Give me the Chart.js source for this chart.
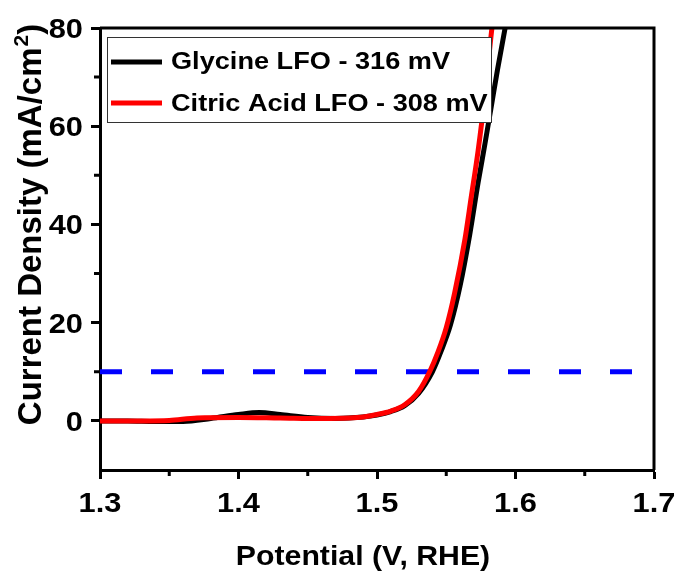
<!DOCTYPE html>
<html>
<head>
<meta charset="utf-8">
<script src="https://cdn.jsdelivr.net/npm/chart.js@4"></script>
<style>
  html, body { margin: 0; padding: 0; background: #fff; }
  #c { display: block; }
</style>
</head>
<body>
<canvas id="c" width="681" height="575"></canvas>
<script>
// Linear sweep voltammetry, OER polarisation curves
const glycinePotential = [1.300, 1.320, 1.340, 1.360, 1.380, 1.400, 1.415, 1.430, 1.450, 1.470, 1.490, 1.500, 1.510, 1.520, 1.530, 1.540, 1.546, 1.553, 1.560, 1.567, 1.573, 1.578, 1.5825, 1.587, 1.5925, 1.596];
const glycineCurrent   = [0.0,   0.0,  -0.1,  -0.1,   0.5,   1.3,   1.7,   1.3,   0.7,   0.5,   0.8,   1.2,   1.9,   3.1,   5.6,  10.0,  14.0,  19.5,  27.5,  38.0,  48.5,  56.5,  64.0,   71.5,  80.0,   85.0];

const citricPotential  = [1.300, 1.330, 1.350, 1.370, 1.400, 1.430, 1.460, 1.480, 1.490, 1.500, 1.510, 1.520, 1.530, 1.538, 1.544, 1.550, 1.556, 1.5635, 1.568, 1.573, 1.578, 1.583, 1.586];
const citricCurrent    = [0.0,   0.0,   0.1,   0.6,   0.7,   0.6,   0.5,   0.6,   0.8,   1.3,   2.0,   3.3,   6.0,  10.0,  14.0,  19.0,  26.0,  37.0,   45.5,  55.0,  66.5,  80.0,  86.0];

const referenceCurrent = 10;              // mA/cm2 benchmark line
const referenceSpan    = [1.3, 1.7];

const seriesLabels = ['Glycine LFO - 316 mV', 'Citric Acid LFO - 308 mV'];
const seriesColors = ['#000000', '#ff0000'];

const xTickValues  = [1.3, 1.4, 1.5, 1.6, 1.7];
const xTickLabels  = ['1.3', '1.4', '1.5', '1.6', '1.7'];
const xMinorValues = [1.35, 1.45, 1.55, 1.65];
const yTickValues  = [0, 20, 40, 60, 80];
const yTickLabels  = ['0', '20', '40', '60', '80'];
const yMinorValues = [10, 30, 50, 70];

const xTitle = 'Potential (V, RHE)';
const yTitleParts = ['Current Density (mA/cm', '2', ')'];

const toPoints = (xs, ys) => xs.map((x, i) => ({ x: x, y: ys[i] }));

const FONT = '"Liberation Sans", Arial, sans-serif';

// text with a horizontal stretch factor
function stretchedText(ctx, text, x, y, font, sx, align) {
  ctx.save();
  ctx.font = font;
  const w = ctx.measureText(text).width * sx;
  let left = x;
  if (align === 'center') left = x - w / 2;
  else if (align === 'right') left = x - w;
  ctx.translate(left, y);
  ctx.scale(sx, 1);
  ctx.textAlign = 'left';
  ctx.textBaseline = 'alphabetic';
  ctx.fillText(text, 0, 0);
  ctx.restore();
}

const framePlugin = {
  id: 'frame',
  afterDatasetsDraw(chart) {
    const { ctx, chartArea: a, scales } = chart;
    ctx.save();
    // box frame
    ctx.strokeStyle = '#000';
    ctx.lineWidth = 3;
    ctx.beginPath();
    ctx.moveTo(a.left, a.top);
    ctx.lineTo(a.right, a.top);
    ctx.lineTo(a.right, a.bottom);
    ctx.stroke();
    // minor ticks
    ctx.beginPath();
    xMinorValues.forEach(v => {
      const px = scales.x.getPixelForValue(v);
      ctx.moveTo(px, a.bottom);
      ctx.lineTo(px, a.bottom + 6);
    });
    yMinorValues.forEach(v => {
      const py = scales.y.getPixelForValue(v);
      ctx.moveTo(a.left, py);
      ctx.lineTo(a.left - 6, py);
    });
    ctx.stroke();

    // tick labels
    ctx.fillStyle = '#000';
    const tickFont = 'bold 28px ' + FONT;
    xTickValues.forEach((v, i) => {
      stretchedText(ctx, xTickLabels[i], scales.x.getPixelForValue(v), a.bottom + 42, tickFont, 1.1, 'center');
    });
    yTickValues.forEach((v, i) => {
      stretchedText(ctx, yTickLabels[i], a.left - 17, scales.y.getPixelForValue(v) + 10, tickFont, 1.1, 'right');
    });

    // legend
    const lx = 107, ly = 37, lw = 384, lh = 85;
    ctx.fillStyle = '#fff';
    ctx.fillRect(lx, ly, lw, lh);
    ctx.strokeStyle = '#333';
    ctx.lineWidth = 1;
    ctx.strokeRect(lx + 0.5, ly + 0.5, lw, lh);
    const rows = [62, 103];
    const baselines = [69, 111];
    seriesLabels.forEach((lab, i) => {
      ctx.strokeStyle = seriesColors[i];
      ctx.lineWidth = 5;
      ctx.beginPath();
      ctx.moveTo(111, rows[i]);
      ctx.lineTo(162, rows[i]);
      ctx.stroke();
      ctx.fillStyle = '#000';
      stretchedText(ctx, lab, 171, baselines[i], 'bold 23px ' + FONT, 1.18, 'left');
    });

    // axis titles
    ctx.fillStyle = '#000';
    stretchedText(ctx, xTitle, 363, 565, 'bold 28px ' + FONT, 1.08, 'center');

    ctx.save();
    ctx.translate(41, 225);
    ctx.rotate(-Math.PI / 2);
    const big = 'bold 33px ' + FONT, small = 'bold 21px ' + FONT;
    ctx.font = big;
    const w0 = ctx.measureText(yTitleParts[0]).width;
    const w2 = ctx.measureText(yTitleParts[2]).width;
    ctx.font = small;
    const w1 = ctx.measureText(yTitleParts[1]).width;
    const x0 = -(w0 + w1 + w2) / 2;
    ctx.textAlign = 'left';
    ctx.textBaseline = 'alphabetic';
    ctx.font = big;
    ctx.fillText(yTitleParts[0], x0, 0);
    ctx.font = small;
    ctx.fillText(yTitleParts[1], x0 + w0 + 1, -13);
    ctx.font = big;
    ctx.fillText(yTitleParts[2], x0 + w0 + w1 + 1, 0);
    ctx.restore();

    ctx.restore();
  }
};

new Chart(document.getElementById('c'), {
  type: 'line',
  data: {
    datasets: [
      {
        label: seriesLabels[1],
        data: toPoints(citricPotential, citricCurrent),
        borderColor: seriesColors[1],
        borderWidth: 5,
        pointRadius: 0,
        cubicInterpolationMode: 'monotone',
        order: 1
      },
      {
        label: seriesLabels[0],
        data: toPoints(glycinePotential, glycineCurrent),
        borderColor: seriesColors[0],
        borderWidth: 5,
        pointRadius: 0,
        cubicInterpolationMode: 'monotone',
        order: 2
      },
      {
        label: '10 mA/cm2',
        data: referenceSpan.map(x => ({ x: x, y: referenceCurrent })),
        borderColor: '#0000ff',
        borderWidth: 5,
        borderDash: [22, 29],
        pointRadius: 0,
        order: 3
      }
    ]
  },
  options: {
    responsive: false,
    animation: false,
    devicePixelRatio: 1,
    layout: { padding: { left: 0, top: 28, right: 27, bottom: 0 } },
    plugins: { legend: { display: false }, tooltip: { enabled: false } },
    scales: {
      x: {
        type: 'linear',
        min: 1.3, max: 1.7,
        afterBuildTicks: s => { s.ticks = xTickValues.map(v => ({ value: v })); },
        afterFit: s => { s.height = 105; },
        ticks: { display: false },
        grid: { drawOnChartArea: false, tickLength: 9, tickWidth: 3, tickColor: '#000' },
        border: { display: true, width: 3, color: '#000' }
      },
      y: {
        type: 'linear',
        min: -10, max: 80,
        afterBuildTicks: s => { s.ticks = yTickValues.map(v => ({ value: v })); },
        afterFit: s => { s.width = 100; },
        ticks: { display: false },
        grid: { drawOnChartArea: false, tickLength: 9, tickWidth: 3, tickColor: '#000' },
        border: { display: true, width: 3, color: '#000' }
      }
    }
  },
  plugins: [framePlugin]
});
</script>
</body>
</html>
